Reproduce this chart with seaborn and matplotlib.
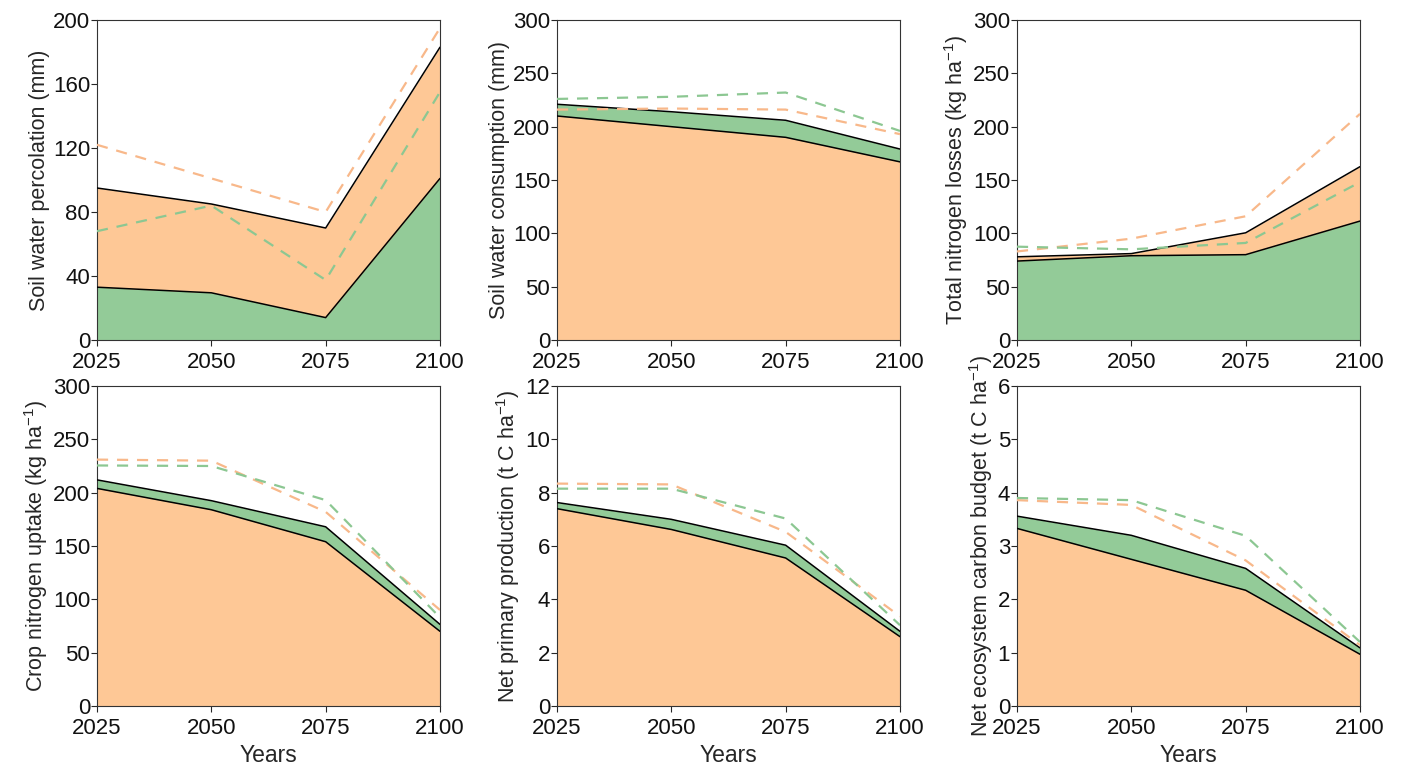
import numpy as np
import pandas as pd
import matplotlib
matplotlib.use('Agg')
import matplotlib.pyplot as plt
import seaborn as sns

years = [2025, 2050, 2075, 2100]

# solid series (filled areas) and dashed series, per panel
perc_green = [33, 29.5, 14, 101]
perc_orange = [95, 85, 70, 183]
perc_orange_dash = [122, 101, 80, 195]
perc_green_dash = [68, 84, 37.5, 155]

cons_orange = [210, 200, 190, 167]
cons_green = [221, 214, 206, 179]
cons_orange_dash = [216, 217, 216, 193]
cons_green_dash = [226, 228, 232, 196]

nloss_green = [74, 79, 80, 111.5]
nloss_orange = [78, 81, 100.5, 162.5]
nloss_orange_dash = [83, 95, 116, 212]
nloss_green_dash = [87.5, 85, 91, 148]

nup_orange = [204, 184, 154, 70]
nup_green = [212, 192.5, 168, 76.5]
nup_orange_dash = [231, 230, 182, 90]
nup_green_dash = [225.5, 225, 193, 83]

npp_orange = [7.4, 6.62, 5.55, 2.6]
npp_green = [7.63, 7.0, 6.03, 2.8]
npp_orange_dash = [8.34, 8.31, 6.53, 3.36]
npp_green_dash = [8.15, 8.15, 7.03, 3.03]

necb_orange = [3.33, 2.75, 2.17, 0.97]
necb_green = [3.56, 3.2, 2.58, 1.09]
necb_orange_dash = [3.86, 3.77, 2.73, 1.14]
necb_green_dash = [3.9, 3.86, 3.19, 1.2]

panels = [
    ('Soil water percolation (mm)', perc_green, perc_orange, perc_green_dash, perc_orange_dash, 200, 40),
    ('Soil water consumption (mm)', cons_green, cons_orange, cons_green_dash, cons_orange_dash, 300, 50),
    ('Total nitrogen losses (kg ha$^{\\mathregular{-1}}$)', nloss_green, nloss_orange, nloss_green_dash, nloss_orange_dash, 300, 50),
    ('Crop nitrogen uptake (kg ha$^{\\mathregular{-1}}$)', nup_green, nup_orange, nup_green_dash, nup_orange_dash, 300, 50),
    ('Net primary production (t C ha$^{\\mathregular{-1}}$)', npp_green, npp_orange, npp_green_dash, npp_orange_dash, 12, 2),
    ('Net ecosystem carbon budget (t C ha$^{\\mathregular{-1}}$)', necb_green, necb_orange, necb_green_dash, necb_orange_dash, 6, 1),
]

GREEN = '#93CB98'
ORANGE = '#FEC896'
GREEN_D = '#8CC792'
ORANGE_D = '#F8B88A'

sns.set_style('ticks')
plt.rcParams['font.family'] = ['Liberation Sans', 'DejaVu Sans']
plt.rcParams['mathtext.fontset'] = 'custom'
plt.rcParams['mathtext.rm'] = 'Liberation Sans'
plt.rcParams['mathtext.it'] = 'Liberation Sans'

fig = plt.figure(figsize=(14.03, 7.72), dpi=100)
W, H = 1403, 772
lefts = [97, 557, 1017]
tops = [20, 386]
aw, ah = 343, 320

for i, (ylabel, g, o, gd, od, ymax, step) in enumerate(panels):
    r, c = divmod(i, 3)
    ax = fig.add_axes([lefts[c] / W, 1 - (tops[r] + ah) / H, aw / W, ah / H])
    df = pd.DataFrame({'year': years, 'green': g, 'orange': o,
                       'green_dash': gd, 'orange_dash': od})
    # larger area behind, smaller in front
    if np.mean(g) < np.mean(o):
        order = [('orange', ORANGE), ('green', GREEN)]
    else:
        order = [('green', GREEN), ('orange', ORANGE)]
    for z, (col, colr) in enumerate(order):
        ax.fill_between(df['year'], 0, df[col], color=colr, lw=0, zorder=1 + z)
    for col in ['green', 'orange']:
        sns.lineplot(data=df, x='year', y=col, color='black', lw=1.1, ax=ax, zorder=4)
    sns.lineplot(data=df, x='year', y='orange_dash', color=ORANGE_D, lw=1.6,
                 ax=ax, zorder=5, dashes=False, linestyle=(0, (5, 4)))
    sns.lineplot(data=df, x='year', y='green_dash', color=GREEN_D, lw=1.6,
                 ax=ax, zorder=5, dashes=False, linestyle=(0, (5, 4)))
    ax.set_xlim(2025, 2100)
    ax.set_ylim(0, ymax)
    ax.set_xticks(years)
    ax.set_yticks(np.arange(0, ymax + step / 2, step))
    ax.tick_params(direction='out', length=4, width=0.8, labelsize=16,
                   labelcolor='#111111')
    ax.tick_params(axis='y', pad=1)
    ax.tick_params(axis='x', pad=5)
    for s in ax.spines.values():
        s.set_linewidth(0.8)
        s.set_color('#333333')
    ax.set_ylabel(ylabel, fontsize=15.5, labelpad=2)
    if r == 1:
        ax.set_xlabel('Years', fontsize=16.5, labelpad=3)
    else:
        ax.set_xlabel('')

fig.savefig('out.png', dpi=100)
